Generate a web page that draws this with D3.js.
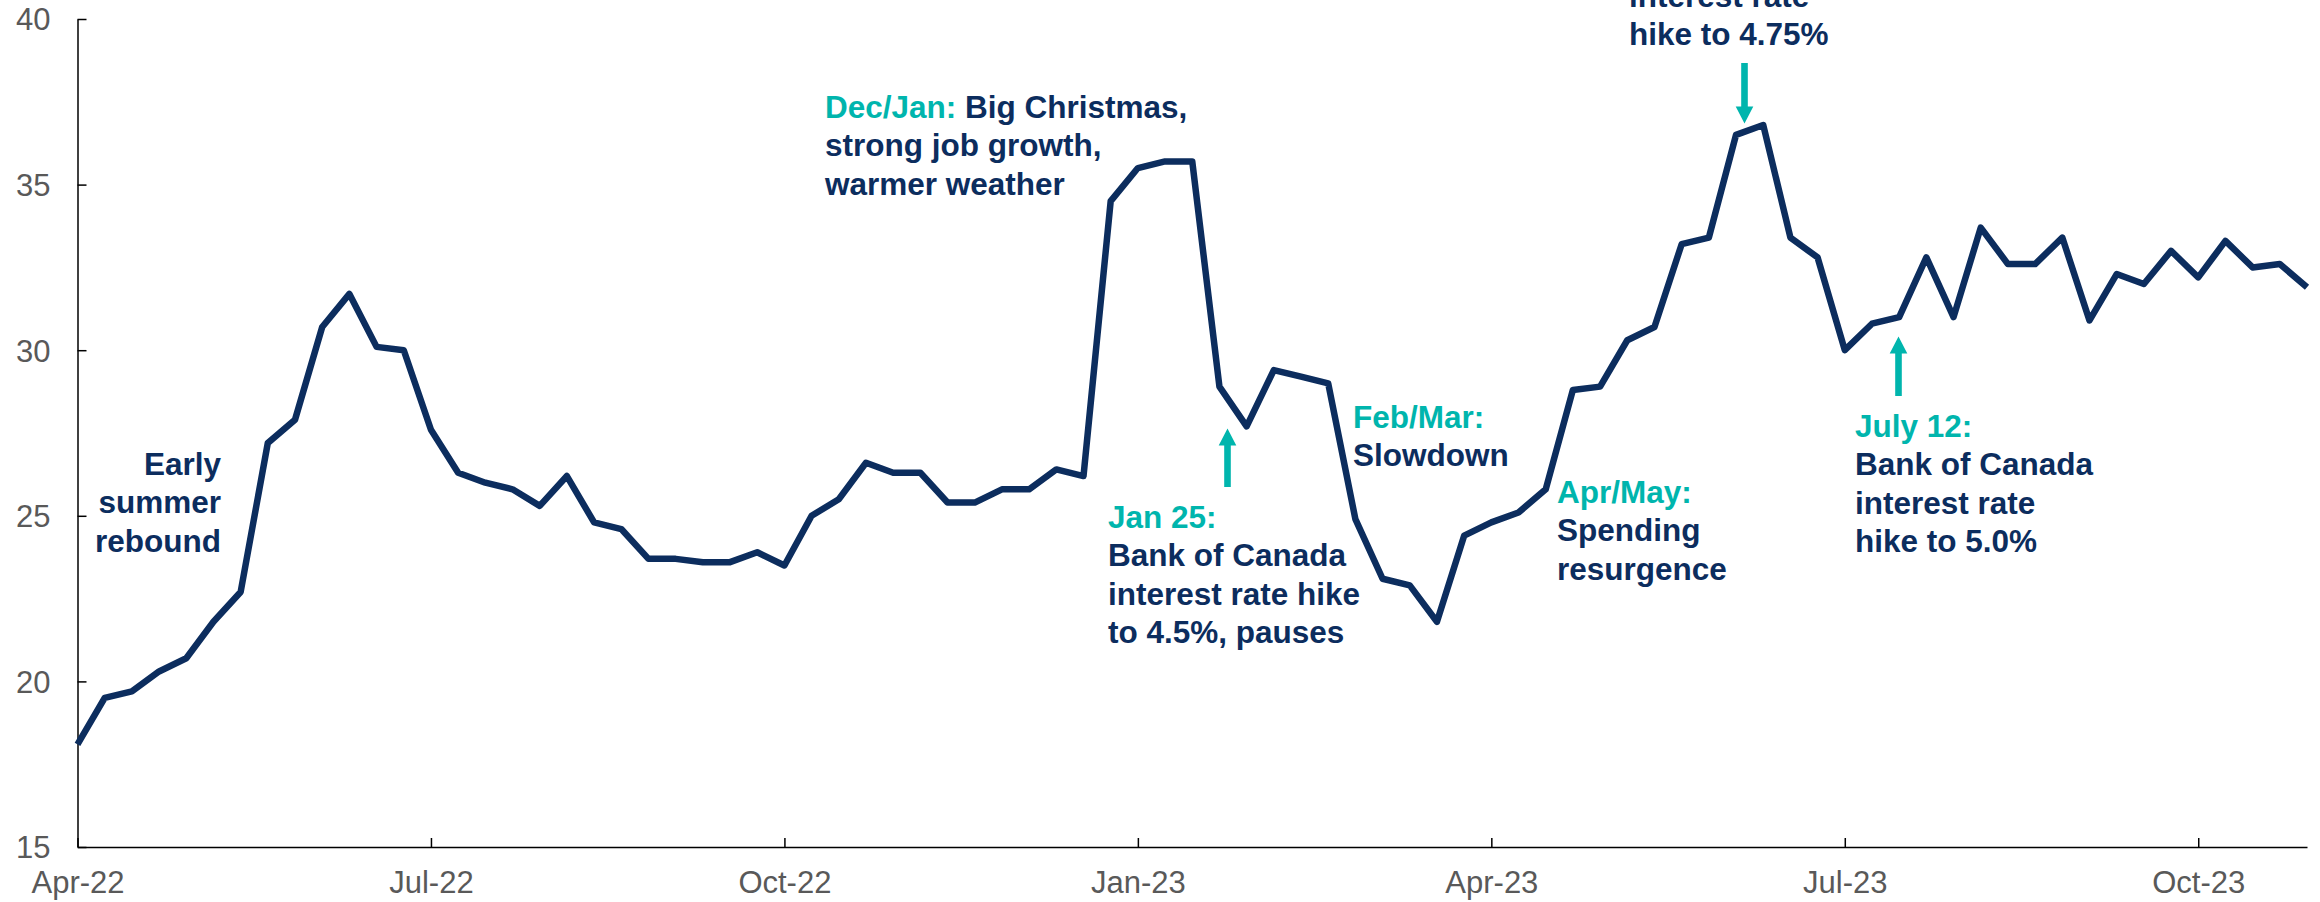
<!DOCTYPE html>
<html>
<head>
<meta charset="utf-8">
<script src="https://cdn.jsdelivr.net/npm/d3@7/dist/d3.min.js"></script>
<style>
  html, body { margin: 0; padding: 0; background: #ffffff; }
  svg { display: block; }
  text { font-family: Arial, "Liberation Sans", sans-serif; }
</style>
</head>
<body>
<script>
// Weekly spending index, April 2022 to November 2023
const values = [
  18.1, 19.5, 19.7, 20.3, 20.7, 21.8, 22.7, 27.2, 27.9, 30.7,
  31.7, 30.1, 30.0, 27.6, 26.3, 26.0, 25.8, 25.3, 26.2, 24.8,
  24.6, 23.7, 23.7, 23.6, 23.6, 23.9, 23.5, 25.0, 25.5, 26.6,
  26.3, 26.3, 25.4, 25.4, 25.8, 25.8, 26.4, 26.2, 34.5, 35.5,
  35.7, 35.7, 28.9, 27.7, 29.4, 29.2, 29.0, 24.9, 23.1, 22.9,
  21.8, 24.4, 24.8, 25.1, 25.8, 28.8, 28.9, 30.3, 30.7, 33.2,
  33.4, 36.5, 36.8, 33.4, 32.8, 30.0, 30.8, 31.0, 32.8, 31.0,
  33.7, 32.6, 32.6, 33.4, 30.9, 32.3, 32.0, 33.0, 32.2, 33.3,
  32.5, 32.6, 31.9
];
const weeks = d3.range(values.length);

// Quarter labels on the time axis and the week each one falls on
const tickLabels = ["Apr-22", "Jul-22", "Oct-22", "Jan-23", "Apr-23", "Jul-23", "Oct-23"];
const tickWeeks = [0, 13, 26, 39, 52, 65, 78];

// Value axis ticks
const yTicks = [15, 20, 25, 30, 35, 40];

// Callouts: a teal heading (optional) followed by navy lines
const notes = [
  { x: 221, y: 475, anchor: "end", head: null, lines: ["Early", "summer", "rebound"] },
  { x: 825, y: 118, anchor: "start", head: "Dec/Jan:", inline: " Big Christmas,", lines: ["strong job growth,", "warmer weather"] },
  { x: 1108, y: 528, anchor: "start", head: "Jan 25:", lines: ["Bank of Canada", "interest rate hike", "to 4.5%, pauses"] },
  { x: 1353, y: 428, anchor: "start", head: "Feb/Mar:", lines: ["Slowdown"] },
  { x: 1557, y: 503, anchor: "start", head: "Apr/May:", lines: ["Spending", "resurgence"] },
  { x: 1629, y: 6.5, anchor: "start", head: null, lines: ["interest rate", "hike to 4.75%"] },
  { x: 1855, y: 437, anchor: "start", head: "July 12:", lines: ["Bank of Canada", "interest rate", "hike to 5.0%"] }
];

// Arrows pointing at the rate decisions
const arrows = [
  { x: 1227.5, tip: 428.5, tail: 487, dir: "up" },
  { x: 1744.5, tip: 123.5, tail: 63, dir: "down" },
  { x: 1898.5, tip: 336.5, tail: 396, dir: "up" }
];

const W = 2320, H = 902;
const navy = "#0c2d5e";
const teal = "#00b5ad";
const grey = "#595959";
const lineH = 38.3;

const svg = d3.select("body").append("svg")
  .attr("width", W).attr("height", H)
  .attr("viewBox", `0 0 ${W} ${H}`);

const x = d3.scaleLinear().domain([0, values.length - 1]).range([77.5, 2307]);
const y = d3.scaleLinear().domain([15, 40]).range([847, 19]);

// Value axis: ticks point inward
const yAxis = d3.axisLeft(y)
  .tickValues(yTicks)
  .tickSizeInner(-9)
  .tickSizeOuter(0)
  .tickPadding(27)
  .tickFormat(d3.format("d"));

const gy = svg.append("g")
  .attr("transform", `translate(${x(0)},0)`)
  .call(yAxis);
gy.select(".domain").attr("stroke", "#000").attr("stroke-width", 1.5);
gy.selectAll(".tick line").attr("stroke", "#000").attr("stroke-width", 1.5);
gy.selectAll(".tick text")
  .attr("fill", grey)
  .attr("font-size", 31)
  .attr("dy", "0.35em");

// Time axis
const xAxis = d3.axisBottom(x)
  .tickValues(tickWeeks)
  .tickSizeInner(-9)
  .tickSizeOuter(0)
  .tickFormat((d, i) => tickLabels[i]);

const gx = svg.append("g")
  .attr("transform", `translate(0,${y(15)})`)
  .call(xAxis);
gx.select(".domain").attr("stroke", "#000").attr("stroke-width", 1.5);
gx.selectAll(".tick line").attr("stroke", "#000").attr("stroke-width", 1.5);
gx.selectAll(".tick text")
  .attr("fill", grey)
  .attr("font-size", 31)
  .attr("y", 46)
  .attr("dy", 0);

// Series line
const line = d3.line()
  .x((d, i) => x(weeks[i]))
  .y(d => y(d));

svg.append("path")
  .datum(values)
  .attr("fill", "none")
  .attr("stroke", navy)
  .attr("stroke-width", 6.5)
  .attr("stroke-linejoin", "round")
  .attr("d", line);

// Callout text
const gNotes = svg.append("g")
  .attr("font-size", 31.5)
  .attr("font-weight", "bold");

notes.forEach(n => {
  const t = gNotes.append("text")
    .attr("x", n.x)
    .attr("y", n.y)
    .attr("text-anchor", n.anchor);
  let row = 0;
  if (n.head) {
    const first = t.append("tspan").attr("x", n.x).attr("y", n.y);
    first.append("tspan").attr("fill", teal).text(n.head);
    if (n.inline) {
      first.append("tspan").attr("fill", navy).text(n.inline);
    }
    row = 1;
  }
  n.lines.forEach(s => {
    t.append("tspan")
      .attr("x", n.x)
      .attr("y", n.y + row * lineH)
      .attr("fill", navy)
      .text(s);
    row += 1;
  });
});

// Arrows
const headLen = 17, headHalf = 8.8, shaftHalf = 3.3;
arrows.forEach(a => {
  const s = a.dir === "up" ? 1 : -1;
  const base = a.tip + s * headLen;
  const p = d3.path();
  p.moveTo(a.x, a.tip);
  p.lineTo(a.x + headHalf, base);
  p.lineTo(a.x + shaftHalf, base);
  p.lineTo(a.x + shaftHalf, a.tail);
  p.lineTo(a.x - shaftHalf, a.tail);
  p.lineTo(a.x - shaftHalf, base);
  p.lineTo(a.x - headHalf, base);
  p.closePath();
  svg.append("path").attr("d", p.toString()).attr("fill", teal);
});
</script>
</body>
</html>
